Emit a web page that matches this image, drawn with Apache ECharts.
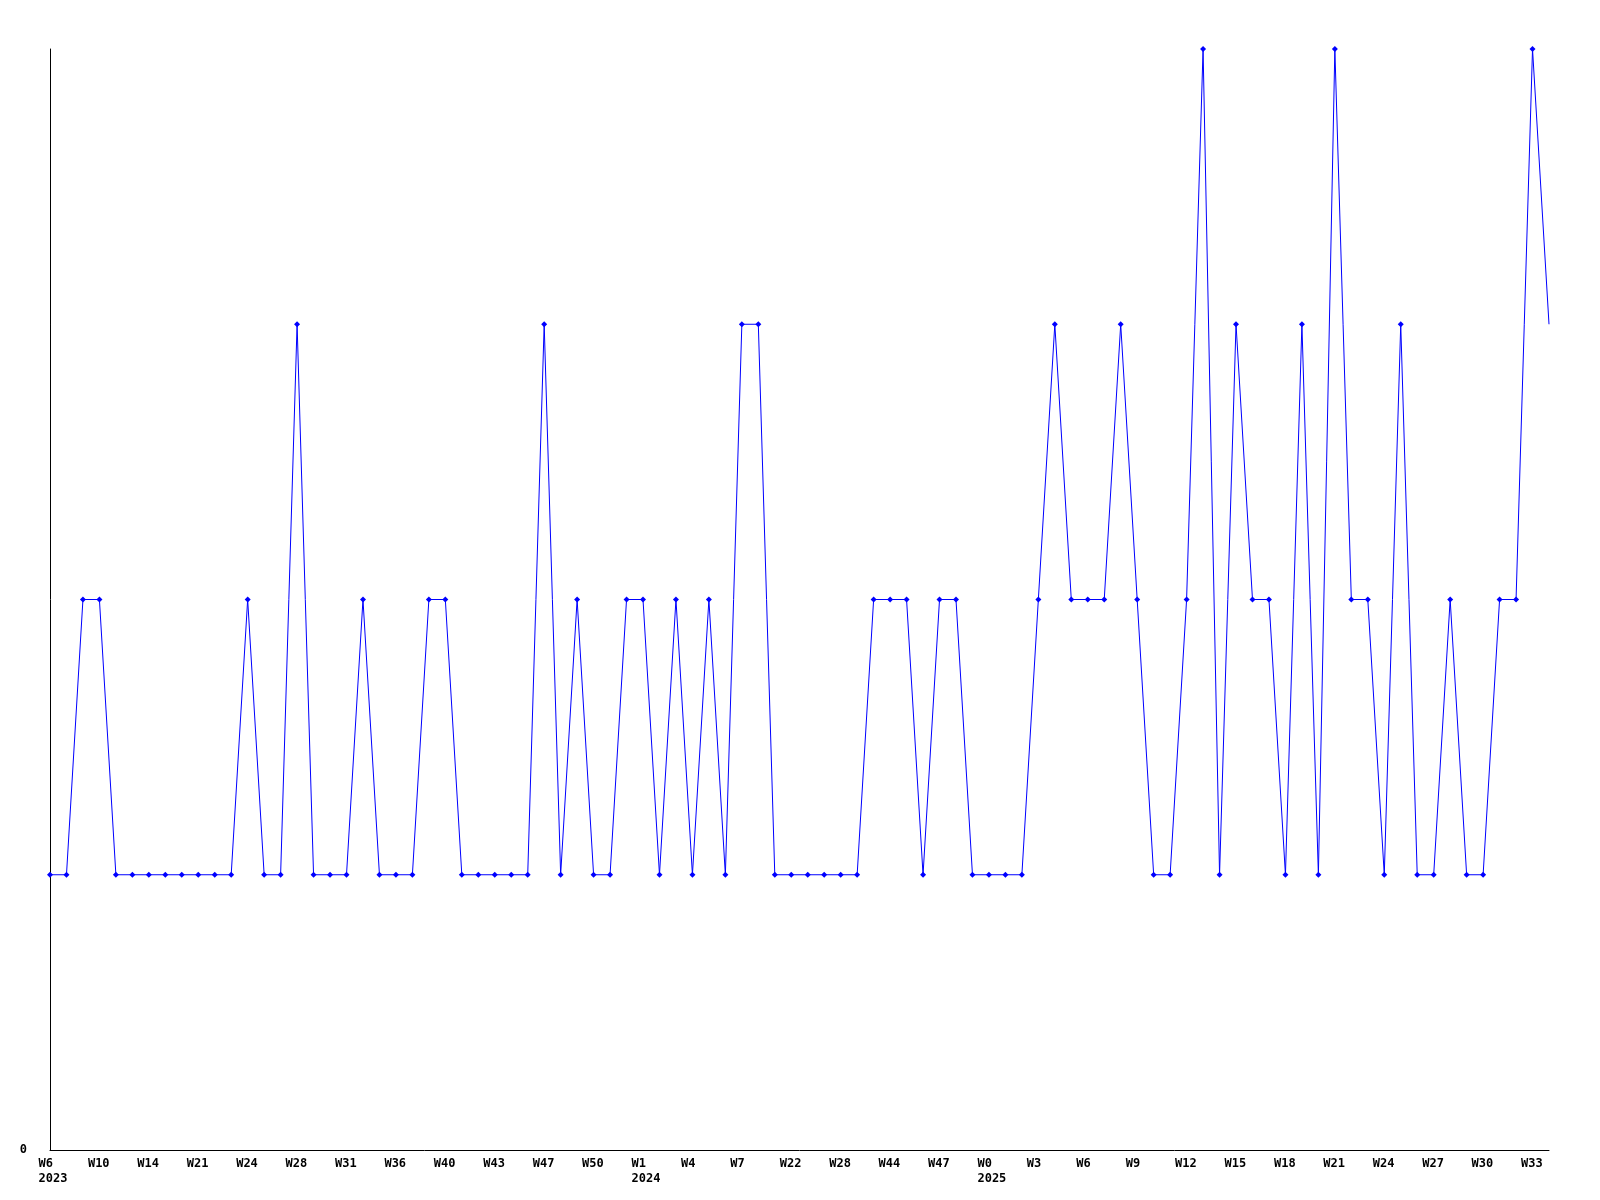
<!DOCTYPE html>
<html>
<head>
<meta charset="utf-8">
<script src="https://cdn.jsdelivr.net/npm/echarts@6/dist/echarts.min.js"></script>
<style>
html,body{margin:0;padding:0;background:#fff;}
#chart{width:1600px;height:1200px;}
</style>
</head>
<body>
<div id="chart"></div>
<script>
// Weekly values (one per point)
const values = [
  1,1,2,2,1,1,1,1,1,1,
  1,1,2,1,1,3,1,1,1,2,
  1,1,1,2,2,1,1,1,1,1,
  3,1,2,1,1,2,2,1,2,1,
  2,1,3,3,1,1,1,1,1,1,
  2,2,2,1,2,2,1,1,1,1,
  2,3,2,2,2,3,2,1,1,2,
  4,1,3,2,2,1,3,1,4,2,
  2,1,3,1,1,2,1,1,2,2,
  4,3
];
// Tick labels shown every third point
const tickLabels = [
  'W6','W10','W14','W21','W24','W28','W31','W36','W40','W43','W47','W50',
  'W1','W4','W7','W22','W28','W44','W47','W0','W3','W6','W9','W12',
  'W15','W18','W21','W24','W27','W30','W33'
];
// Year sub-labels by tick label index
const yearLabels = {0: '2023', 12: '2024', 19: '2025'};
const yTicks = [0];

const categories = values.map((v, i) => String(i));

const chart = echarts.init(document.getElementById('chart'), null, {renderer: 'canvas'});
const lastIdx = values.length - 1;
const labelFont = {
  fontFamily: 'DejaVu Sans Mono',
  fontWeight: 'bold',
  fontSize: 12,
  color: '#000'
};
chart.setOption({
  animation: false,
  backgroundColor: '#ffffff',
  grid: {left: 50, right: 51, top: 49, bottom: 50, containLabel: false},
  xAxis: {
    type: 'category',
    data: categories,
    boundaryGap: false,
    axisLine: {show: true, lineStyle: {color: '#000', width: 1}},
    axisTick: {show: false},
    splitLine: {show: false},
    axisLabel: Object.assign({
      interval: 2,
      margin: 6,
      lineHeight: 15,
      align: 'center',
      rich: {
        t: Object.assign({width: 23, align: 'left', lineHeight: 15}, labelFont)
      },
      formatter: function (value, index) {
        const k = index / 3;
        if (!Number.isInteger(k) || k >= tickLabels.length) return '';
        let s = '{t|' + tickLabels[k] + '}';
        if (yearLabels[k]) s += '\n{t|' + yearLabels[k] + '}';
        return s;
      }
    }, labelFont)
  },
  yAxis: {
    type: 'value',
    min: 0,
    max: 4,
    interval: 1,
    axisLine: {show: true, lineStyle: {color: '#000', width: 1}},
    axisTick: {show: false},
    splitLine: {show: false},
    axisLabel: Object.assign({
      margin: 23,
      formatter: function (v) { return yTicks.indexOf(v) >= 0 ? String(v) : ''; }
    }, labelFont)
  },
  series: [{
    type: 'line',
    data: values,
    symbol: function (v, params) { return params.dataIndex === lastIdx ? 'none' : 'diamond'; },
    symbolSize: 6,
    showAllSymbol: true,
    lineStyle: {color: '#0000ff', width: 1},
    itemStyle: {color: '#0000ff'},
    clip: false
  }]
});
</script>
</body>
</html>
